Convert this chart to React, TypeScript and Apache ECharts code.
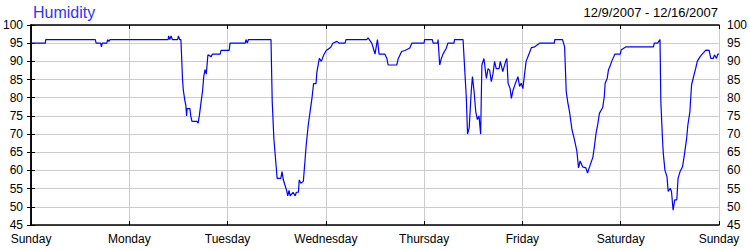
import React, { useEffect, useRef } from "react";
import * as echarts from "echarts";

const dayLabels = ["Sunday", "Monday", "Tuesday", "Wednesday", "Thursday", "Friday", "Saturday", "Sunday"];
const yTicks = { min: 45, max: 100, step: 5 };
const titleText = "Humidity";
const dateRange = "12/9/2007 - 12/16/2007";

// hours since Sunday 00:00
const hours = [
  0, 3.5, 3.6, 15.7, 15.9, 17.0, 17.2, 17.4, 18.5, 18.7, 19.0, 19.3,
  33.5, 33.6, 33.9, 34.2, 34.5, 35.8, 36.0, 36.3, 36.6, 37.0, 37.2, 37.6, 37.8, 38.0, 38.1, 38.8, 39.0, 39.3,
  40.5, 40.8, 41.1, 41.5, 41.9, 42.2, 42.5, 42.8, 43.2, 44.0, 44.3, 46.2, 46.4, 48.4, 48.6, 52.3, 52.5, 52.8, 53.1,
  58.6, 58.9, 59.3, 59.8, 60.1, 61.0, 61.3, 61.6, 62.0, 62.4, 62.7, 63.0, 63.3, 64.0, 64.5, 64.8, 65.3, 65.5, 65.9,
  66.5, 66.9, 67.2, 67.7, 68.2, 68.6, 69.0, 69.6, 69.8, 70.4, 70.9, 71.5, 72.1, 73.2, 73.7, 74.7, 75.3, 76.7, 76.9,
  82.0, 82.3, 82.6, 83.2, 83.6, 84.0, 84.6, 85.0, 86.4, 86.9, 87.2, 89.3, 89.7, 90.5, 91.3, 92.5, 93.0, 96.0, 96.1,
  98.0, 98.2, 99.3, 99.4, 99.8, 100.2, 100.6, 101.4, 101.8, 103.3, 103.4, 105.5, 105.9, 106.3, 106.6, 107.0, 107.5,
  107.8, 108.2, 108.6, 109.0, 109.4, 109.8, 110.1, 110.6, 111.2, 111.6, 112.0, 112.4, 112.8, 113.2, 113.6, 114.3,
  114.6, 115.2, 115.9, 116.2, 116.5, 117.0, 117.3, 117.7, 118.3, 118.9, 119.3, 119.7, 120.1, 120.4, 120.9, 121.6,
  122.2, 123.0, 124.2, 127.8, 127.9, 129.8, 130.3, 130.7, 131.1, 131.5, 132.1, 132.7, 133.3, 133.7, 134.1, 134.7,
  135.5, 135.9, 136.3, 137.2, 137.6, 138.0, 138.4, 138.8, 139.6, 140.0, 140.2, 140.7, 141.0, 141.5, 141.8, 142.3,
  142.6, 143.9, 144.1, 145.3, 152.0, 152.2, 153.0, 153.6, 153.8, 154.2, 154.4, 154.8, 155.3, 155.6, 156.1, 156.4,
  156.8, 157.2, 157.7, 158.0, 158.5, 159.1, 159.6, 160.1, 160.4, 160.9, 161.3, 161.9, 162.3, 162.7, 163.4, 163.9,
  164.8, 165.6, 166.0, 166.6, 166.9, 167.4, 167.7, 168,
];

const humidity = [
  95, 95, 96, 96, 95, 95, 94, 95, 95, 96, 95.5, 96,
  96, 97, 96, 97, 96, 96, 97, 96, 96, 85, 82, 79, 78, 75, 77, 77, 75, 73.5,
  73.5, 73, 75, 78.6, 82, 86, 87.7, 86.5, 91.8, 91.3, 92, 92, 93, 93, 95, 95, 96, 95, 96,
  96, 79, 68.8, 62, 57.8, 57.8, 59.7, 57.5, 56, 54.6, 53, 54.5, 53, 54, 53, 54, 54, 57.4, 56.5,
  57, 62.6, 67, 72.5, 76.6, 79.8, 83.9, 83.9, 87, 90.8, 90, 91.8, 93, 93.9, 95, 95.5, 95, 95, 96,
  96, 96.5, 96, 95, 93.6, 92, 96, 92, 92, 90.8, 89, 89, 90.8, 92.7, 93, 93.7, 95, 95, 96,
  96, 95, 95, 96, 89, 90.8, 92, 93.6, 95, 95, 96, 96, 88, 80, 70, 71.7, 81.7,
  85.8, 81.7, 76.2, 74, 75, 70, 89, 90.8, 85.3, 88, 87.6, 84.4, 86.5, 90, 88, 88,
  90, 87.2, 90, 90.8, 84, 82.5, 79.8, 82, 84, 85.8, 83.1, 84, 82.5, 85.3, 90, 92,
  93.8, 94, 95, 95, 96, 96, 94, 81.7, 78.6, 76.2, 71.2, 68.5, 65.3, 60.7, 62.6, 61,
  60.7, 59.3, 60.7, 63.6, 66.8, 70.4, 72.7, 75.7, 77.3, 80.4, 84, 85.3, 87.6, 89, 90, 91.3,
  92, 92, 93.1, 94, 94, 95, 95, 96, 79, 68.8, 64.7, 60.1, 58.3, 54.2, 55.1, 54.2,
  49.1, 51.9, 51.9, 57.8, 59.7, 61, 64.7, 68.8, 72.5, 76.2, 83.5, 86.3, 88, 90, 91.3, 92,
  93.1, 93, 90.8, 90.8, 91.8, 90.8, 92, 92,
];

export default function App() {
  const ref = useRef<HTMLDivElement>(null);
  useEffect(() => {
    if (!ref.current) return;
    const chart = echarts.init(ref.current, undefined, { renderer: "svg" });
    const font = "'Liberation Sans', Arial, sans-serif";
    const labelStyle = { color: "#000", fontSize: 12, fontFamily: font, lineHeight: 11 };
    const data = hours.map((h, i) => [h, humidity[i]]);
    const yBase = {
      type: "value" as const,
      min: yTicks.min,
      max: yTicks.max,
      interval: yTicks.step,
      axisLine: { show: true, lineStyle: { color: "#000", width: 1.5 } },
      axisTick: { show: true, inside: true, length: 4, lineStyle: { color: "#000" } },
    };
    chart.setOption({
      animation: false,
      backgroundColor: "#fff",
      grid: { left: 30, right: 30, top: 25, bottom: 25, show: false },
      graphic: [
        {
          type: "text",
          x: 33,
          y: 12.5,
          style: { text: titleText, fill: "#3333ff", font: `16px ${font}`, verticalAlign: "middle", align: "left" },
        },
        {
          type: "text",
          x: 718,
          y: 12.5,
          style: { text: dateRange, fill: "#000", font: `13px ${font}`, verticalAlign: "middle", align: "right" },
        },
      ],
      xAxis: [
        {
          type: "value",
          min: 0,
          max: 168,
          interval: 24,
          position: "bottom",
          axisLine: { show: true, lineStyle: { color: "#000", width: 1.5 } },
          axisTick: { show: true, inside: true, length: 4, lineStyle: { color: "#000" } },
          splitLine: { show: true, lineStyle: { color: "#cccccc", width: 1 } },
          axisLabel: {
            ...labelStyle,
            margin: 8,
            showMinLabel: true,
            showMaxLabel: true,
            formatter: (v: number) => dayLabels[Math.round(v / 24)] ?? "",
          },
        },
        {
          type: "value",
          min: 0,
          max: 168,
          interval: 24,
          position: "top",
          axisLine: { show: true, lineStyle: { color: "#000", width: 1.5 } },
          axisTick: { show: true, inside: true, length: 4, lineStyle: { color: "#000" } },
          splitLine: { show: false },
          axisLabel: { show: false },
        },
      ],
      yAxis: [
        {
          ...yBase,
          position: "left",
          splitLine: { show: true, lineStyle: { color: "#cccccc", width: 1 } },
          axisLabel: { ...labelStyle, margin: 8, showMinLabel: true, showMaxLabel: true },
        },
        {
          ...yBase,
          position: "right",
          splitLine: { show: false },
          axisLabel: { ...labelStyle, margin: 8, showMinLabel: true, showMaxLabel: true },
        },
      ],
      series: [
        {
          type: "line",
          data,
          xAxisIndex: 0,
          yAxisIndex: 0,
          showSymbol: false,
          symbol: "none",
          lineStyle: { color: "#0000ff", width: 1.2 },
          itemStyle: { color: "#0000ff" },
          z: 3,
        },
      ],
    });
    return () => chart.dispose();
  }, []);
  return (
    <div
      ref={ref}
      style={{ position: "fixed", left: 0, top: 0, width: 750, height: 250, background: "#fff" }}
    />
  );
}
